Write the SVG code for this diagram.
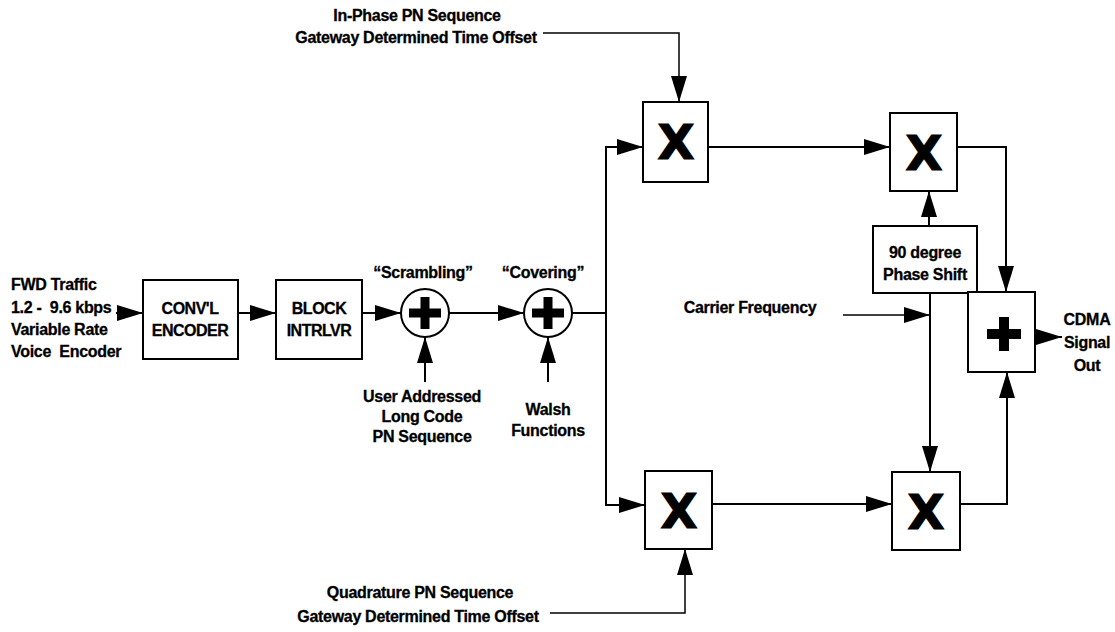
<svg xmlns="http://www.w3.org/2000/svg" width="1115" height="632" viewBox="0 0 1115 632">
  <defs>
    <marker id="arrow" markerUnits="userSpaceOnUse" markerWidth="27" markerHeight="17" refX="26" refY="8" orient="auto">
      <path d="M0,0 L26,8 L0,16 Z" fill="#000"/>
    </marker>
  </defs>
  <style>
    .box { fill: #fff; stroke: #000; stroke-width: 2; }
    .wire { fill: none; stroke: #000; stroke-width: 2; }
    .thin { fill: none; stroke: #000; stroke-width: 1.5; }
    .lbl { font-family: "Liberation Sans", Arial, sans-serif; font-weight: bold; font-size: 16px; letter-spacing: -0.3px; fill: #000; stroke: #000; stroke-width: 0.3; white-space: pre; }
    .blk { font-family: "Liberation Sans", Arial, sans-serif; font-weight: bold; font-size: 16px; letter-spacing: -0.5px; fill: #000; stroke: #000; stroke-width: 0.3; text-anchor: middle; }
    .mid { text-anchor: middle; }
    .mul { font-family: "DejaVu Sans", sans-serif; font-weight: bold; font-size: 48px; fill: #000; stroke: #000; stroke-width: 1.2; text-anchor: middle; }
    .sym { fill: #000; }
  </style>

  <rect width="1115" height="632" fill="#fff"/>

  <!-- connectors -->
  <g id="connectors">
    <path class="wire" d="M116,313 H143" marker-end="url(#arrow)"/>
    <path class="wire" d="M238,313 H276" marker-end="url(#arrow)"/>
    <path class="wire" d="M362,313 H401" marker-end="url(#arrow)"/>
    <path class="wire" d="M449,313 H524" marker-end="url(#arrow)"/>
    <path class="wire" d="M572,313 H606"/>
    <path class="wire" d="M606,313 V147 H643" marker-end="url(#arrow)"/>
    <path class="wire" d="M606,313 V505 H645" marker-end="url(#arrow)"/>
    <path class="thin" d="M543,33 H679 V102" marker-end="url(#arrow)"/>
    <path class="thin" d="M550,613 H685 V549" marker-end="url(#arrow)"/>
    <path class="wire" d="M708,147 H890" marker-end="url(#arrow)"/>
    <path class="wire" d="M712,504 H892" marker-end="url(#arrow)"/>
    <path class="wire" d="M957,147 H1006 V292" marker-end="url(#arrow)"/>
    <path class="wire" d="M960,504 H1007 V372" marker-end="url(#arrow)"/>
    <path class="wire" d="M929,226 V191" marker-end="url(#arrow)"/>
    <path class="wire" d="M930,293 V472" marker-end="url(#arrow)"/>
    <path class="thin" d="M843,315 H930" marker-end="url(#arrow)"/>
    <path class="wire" d="M1035,337 H1062" marker-end="url(#arrow)"/>
    <path class="wire" d="M425,382 V337" marker-end="url(#arrow)"/>
    <path class="wire" d="M548,382 V337" marker-end="url(#arrow)"/>
  </g>

  <!-- input label -->
  <g id="input">
    <text class="lbl" x="11" y="290">FWD Traffic</text>
    <text class="lbl" x="11" y="313">1.2 -  9.6 kbps</text>
    <text class="lbl" x="11" y="335">Variable Rate</text>
    <text class="lbl" x="11" y="357">Voice  Encoder</text>
  </g>

  <g id="conv-encoder">
    <rect class="box" x="143" y="280" width="95" height="79"/>
    <text class="blk" x="190" y="314">CONV'L</text>
    <text class="blk" x="190" y="336">ENCODER</text>
  </g>

  <g id="block-interleaver">
    <rect class="box" x="276" y="280" width="86" height="79"/>
    <text class="blk" x="319" y="314">BLOCK</text>
    <text class="blk" x="319" y="336">INTRLVR</text>
  </g>

  <g id="scrambler">
    <text class="lbl mid" x="423" y="278">“Scrambling”</text>
    <circle class="box" cx="425" cy="313" r="24"/>
    <path class="sym" d="M420.5,297 h9 v11.5 h11.5 v9 h-11.5 v11.5 h-9 v-11.5 h-11.5 v-9 h11.5 Z"/>
    <text class="lbl mid" x="422" y="402">User Addressed</text>
    <text class="lbl mid" x="422" y="422">Long Code</text>
    <text class="lbl mid" x="422" y="442">PN Sequence</text>
  </g>

  <g id="cover">
    <text class="lbl mid" x="543" y="278">“Covering”</text>
    <circle class="box" cx="548" cy="313" r="24"/>
    <path class="sym" d="M543.5,297 h9 v11.5 h11.5 v9 h-11.5 v11.5 h-9 v-11.5 h-11.5 v-9 h11.5 Z"/>
    <text class="lbl mid" x="548" y="415">Walsh</text>
    <text class="lbl mid" x="548" y="436">Functions</text>
  </g>

  <g id="inphase-pn">
    <text class="lbl mid" x="417" y="21">In-Phase PN Sequence</text>
    <text class="lbl mid" x="416" y="43">Gateway Determined Time Offset</text>
  </g>

  <g id="quadrature-pn">
    <text class="lbl mid" x="420" y="598">Quadrature PN Sequence</text>
    <text class="lbl mid" x="418" y="622">Gateway Determined Time Offset</text>
  </g>

  <g id="mixer-i">
    <rect class="box" x="643" y="102" width="65" height="80"/>
    <text class="mul" x="676" y="159">X</text>
  </g>

  <g id="mixer-q">
    <rect class="box" x="645" y="471" width="67" height="78"/>
    <text class="mul" x="679" y="528">X</text>
  </g>

  <g id="carrier">
    <text class="lbl mid" x="750" y="313">Carrier Frequency</text>
  </g>

  <g id="phase-shift">
    <rect class="box" x="873" y="226" width="104" height="67"/>
    <text class="lbl mid" x="925" y="258">90 degree</text>
    <text class="lbl mid" x="925" y="280">Phase Shift</text>
  </g>

  <g id="carrier-mixer-i">
    <rect class="box" x="890" y="113" width="67" height="78"/>
    <text class="mul" x="924" y="170">X</text>
  </g>

  <g id="carrier-mixer-q">
    <rect class="box" x="892" y="472" width="68" height="78"/>
    <text class="mul" x="926" y="529">X</text>
  </g>

  <g id="summer">
    <rect class="box" x="968" y="292" width="67" height="80"/>
    <path class="sym" d="M999,317 h10 v12 h12 v10 h-12 v12 h-10 v-12 h-12 v-10 h12 Z"/>
  </g>

  <g id="output">
    <text class="lbl mid" x="1087" y="325">CDMA</text>
    <text class="lbl mid" x="1087" y="348">Signal</text>
    <text class="lbl mid" x="1087" y="371">Out</text>
  </g>
</svg>
